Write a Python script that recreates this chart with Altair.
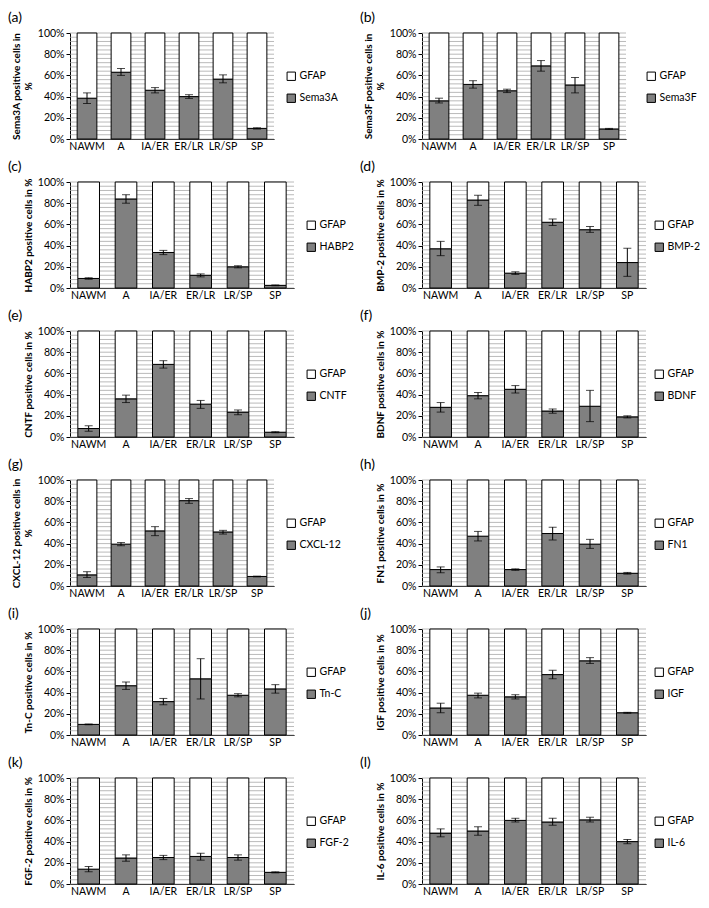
import altair as alt
import pandas as pd

categories = ["NAWM", "A", "IA/ER", "ER/LR", "LR/SP", "SP"]
panel_labels = ["(a)", "(b)", "(c)", "(d)", "(e)", "(f)", "(g)", "(h)", "(i)", "(j)", "(k)", "(l)"]
reference_series = "GFAP"
markers = ["Sema3A", "Sema3F", "HABP2", "BMP-2", "CNTF", "BDNF",
           "CXCL-12", "FN1", "Tn-C", "IGF", "FGF-2", "IL-6"]
y_titles = [
    ["Sema3A positive cells in", "%"],
    ["Sema3F positive cells in", "%"],
    "HABP2 positive cells in %",
    "BMP-2 positive cells in %",
    "CNTF positive cells in %",
    "BDNF positive cells in %",
    ["CXCL-12 positive cells in", "%"],
    "FN1 positive cells in %",
    "Tn-C positive cells in %",
    "IGF positive cells in %",
    "FGF-2 positive cells in %",
    "IL-6 positive cells in %",
]
# mean percentage of marker-positive cells per lesion area
means = [
    [38.5, 63.0, 46.0, 40.0, 56.5, 10.0],   # Sema3A
    [36.0, 51.5, 45.5, 69.0, 51.0, 9.5],    # Sema3F
    [9.0, 84.0, 33.5, 12.0, 20.0, 2.5],     # HABP2
    [37.0, 83.0, 14.0, 62.0, 55.0, 24.0],   # BMP-2
    [8.0, 36.0, 68.5, 31.0, 23.5, 4.5],     # CNTF
    [28.0, 39.0, 45.0, 24.5, 29.0, 19.0],   # BDNF
    [10.5, 39.5, 52.0, 80.5, 51.0, 9.0],    # CXCL-12
    [15.5, 47.0, 15.5, 49.5, 39.5, 12.0],   # FN1
    [10.0, 46.5, 31.5, 53.0, 37.5, 43.5],   # Tn-C
    [25.5, 37.5, 36.0, 57.0, 70.0, 21.0],   # IGF
    [14.0, 24.5, 25.0, 26.0, 25.0, 11.0],   # FGF-2
    [48.0, 50.0, 60.0, 58.5, 60.5, 40.0],   # IL-6
]
err_low = [
    [33.5, 60.0, 43.5, 38.3, 53.0, 9.4],
    [34.0, 48.0, 43.8, 64.0, 43.5, 9.0],
    [8.3, 80.0, 31.5, 10.5, 19.0, 2.1],
    [30.5, 78.0, 12.8, 59.0, 52.5, 11.0],
    [5.5, 32.5, 65.0, 27.0, 21.0, 4.0],
    [23.5, 36.0, 41.5, 22.5, 14.5, 18.0],
    [8.0, 38.0, 47.5, 78.0, 49.0, 8.6],
    [12.5, 42.5, 14.8, 43.5, 35.5, 11.2],
    [9.6, 43.0, 28.5, 34.0, 36.0, 39.5],
    [21.0, 35.0, 34.0, 53.0, 67.5, 20.5],
    [11.5, 21.5, 23.0, 22.5, 22.5, 10.5],
    [44.5, 46.0, 58.5, 55.5, 58.5, 38.0],
]
err_high = [
    [43.5, 66.5, 48.5, 41.8, 60.5, 10.6],
    [38.5, 55.0, 47.0, 74.0, 58.0, 10.0],
    [9.7, 88.0, 35.5, 13.3, 21.0, 2.9],
    [44.0, 87.5, 15.3, 65.0, 58.0, 37.5],
    [10.5, 39.5, 72.0, 34.5, 25.5, 5.0],
    [32.5, 42.0, 48.5, 26.5, 44.0, 20.0],
    [13.5, 41.0, 56.0, 82.5, 52.5, 9.3],
    [18.0, 51.5, 16.2, 55.5, 44.0, 12.8],
    [10.4, 50.0, 34.5, 72.0, 39.0, 47.5],
    [30.0, 39.5, 38.0, 61.0, 73.0, 21.4],
    [16.5, 27.5, 27.0, 29.0, 27.5, 11.5],
    [52.0, 54.0, 62.0, 62.0, 63.0, 42.0],
]
minor_grid = list(range(0, 101, 4))
major_ticks = [0, 20, 40, 60, 80, 100]

FONT = "Lato"
narrow = {0, 1, 6}


def panel(i):
    m = markers[i]
    bar_rows, err_rows = [], []
    for j, c in enumerate(categories):
        v = means[i][j]
        bar_rows.append({"cat": c, "series": m, "y0": 0, "y1": v})
        bar_rows.append({"cat": c, "series": reference_series, "y0": v, "y1": 100})
        err_rows.append({"cat": c, "lo": err_low[i][j], "hi": err_high[i][j]})
    bar_df = pd.DataFrame(bar_rows)
    err_df = pd.DataFrame(err_rows)
    cap_df = pd.concat([
        err_df[["cat"]].assign(v=err_df["lo"]),
        err_df[["cat"]].assign(v=err_df["hi"]),
    ])
    grid_df = pd.DataFrame({"g": minor_grid})

    w = 204 if i in narrow else 224
    if i == 1:
        leg_dx = 20
    elif i % 2 == 1:
        leg_dx = 8
    else:
        leg_dx = 12
    yscale = alt.Scale(domain=[0, 100], nice=False, zero=True)
    yaxis = alt.Axis(values=major_ticks, labelExpr="datum.value + '%'",
                     grid=False, tickSize=4, tickColor="black",
                     domainColor="black", labelFont=FONT, labelFontSize=10.5,
                     labelColor="black", title=y_titles[i],
                     titleFont=FONT, titleFontSize=10, titleFontWeight="bold",
                     titleColor="black", titlePadding=4)

    grid = alt.Chart(grid_df).mark_rule(color="#a8a8a8", strokeWidth=0.8).encode(
        y=alt.Y("g:Q", scale=yscale, axis=yaxis)
    )
    bars = alt.Chart(bar_df).mark_bar(stroke="black", strokeWidth=1).encode(
        x=alt.X("cat:N", sort=categories, title=None,
                scale=alt.Scale(paddingInner=0.42, paddingOuter=0.21),
                axis=alt.Axis(labelAngle=0, ticks=False, domainColor="black",
                              labelFont=FONT, labelFontSize=10.5, labelColor="black",
                              labelPadding=2)),
        y=alt.Y("y0:Q", scale=yscale, axis=yaxis),
        y2="y1:Q",
        color=alt.Color("series:N",
                        scale=alt.Scale(domain=[reference_series, m],
                                        range=["white", "#808080"]),
                        legend=alt.Legend(title=None, orient="none",
                                          legendX=w + leg_dx, legendY=38,
                                          symbolType="square", symbolSize=70,
                                          symbolStrokeColor="black", symbolStrokeWidth=1,
                                          labelFont=FONT, labelFontSize=10.5,
                                          labelColor="black", rowPadding=9,
                                          labelOffset=3)),
    )
    rule = alt.Chart(err_df).mark_rule(color="black", strokeWidth=1).encode(
        x=alt.X("cat:N", sort=categories), y=alt.Y("lo:Q", axis=yaxis), y2="hi:Q"
    )
    caps = alt.Chart(cap_df).mark_tick(color="black", thickness=1, size=8).encode(
        x=alt.X("cat:N", sort=categories), y=alt.Y("v:Q", axis=yaxis)
    )
    return alt.layer(grid, bars, rule, caps).properties(
        width=w, height=106,
        title=alt.TitleParams(panel_labels[i], anchor="start", frame="group",
                              fontSize=14, fontWeight="normal", font=FONT,
                              color="black", offset=3, dx=-62),
    )


chart = alt.concat(
    *[panel(i) for i in range(12)], columns=2, bounds="flush",
    spacing=alt.RowColnumber(row=43, column=128),
).properties(
    padding={"top": 3, "left": 0, "right": 0, "bottom": 0}
).resolve_scale(color="independent").resolve_legend(
    color="independent"
).configure_view(stroke=None)

chart.save("out.html", embed_options={"renderer": "svg", "actions": False})
